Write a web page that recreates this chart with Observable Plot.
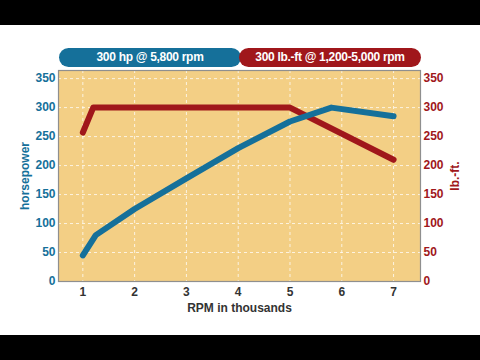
<!DOCTYPE html>
<html>
<head>
<meta charset="utf-8">
<script src="https://cdn.jsdelivr.net/npm/d3@7"></script>
<script src="https://cdn.jsdelivr.net/npm/@observablehq/plot@0.6"></script>
<style>
  html, body { margin: 0; padding: 0; background: #fff; }
  #wrap { position: relative; width: 480px; height: 360px; overflow: hidden; background: #fff; font-family: Arial, "Liberation Sans", sans-serif; }
  .bar { position: absolute; left: 0; width: 480px; background: #000; }
  .pill { position: absolute; height: 19px; border-radius: 10px; color: #fff; font-weight: bold; font-size: 12px; line-height: 19px; text-align: center; letter-spacing: -0.3px; }
  #chart { position: absolute; left: 0; top: 25px; }
</style>
</head>
<body>
<div id="wrap">
  <div class="bar" style="top:0;height:25px"></div>
  <div class="pill" id="pillHp" style="left:59px;top:48px;width:182px;background:#15709a"></div>
  <div class="pill" id="pillTq" style="left:239px;top:48px;width:182px;background:#a0171b"></div>
  <div id="chart"></div>
  <div class="bar" style="top:335px;height:25px"></div>
</div>
<script>
const hpRpm   = [1.0, 1.25, 2, 3, 4, 5, 5.8, 7];
const hpVals  = [45, 80, 125, 178, 230, 276, 300, 285];
const tqRpm   = [1.0, 1.2, 5, 7];
const tqVals  = [257, 300, 300, 210];
const xTicks  = [1, 2, 3, 4, 5, 6, 7];
const yTicks  = [0, 50, 100, 150, 200, 250, 300, 350];
const hpLabel = "300 hp @ 5,800 rpm";
const tqLabel = "300 lb.-ft @ 1,200-5,000 rpm";
const xTitle  = "RPM in thousands";
const yLeftTitle  = "horsepower";
const yRightTitle = "lb.-ft.";

const blue = "#15709a";
const red = "#a0171b";

document.getElementById("pillHp").textContent = hpLabel;
document.getElementById("pillTq").textContent = tqLabel;

const hp = hpRpm.map((r, i) => ({rpm: r, v: hpVals[i]}));
const tq = tqRpm.map((r, i) => ({rpm: r, v: tqVals[i]}));

const chart = Plot.plot({
  width: 480,
  height: 310,
  marginLeft: 58,
  marginRight: 60,
  marginTop: 45,
  marginBottom: 54,
  style: {fontFamily: "Arial, 'Liberation Sans', sans-serif", fontSize: "12px", background: "transparent"},
  x: {domain: [0.53, 7.52]},
  y: {domain: [0, 364]},
  marks: [
    Plot.frame({fill: "#f3cf85", stroke: "none"}),
    Plot.gridX(xTicks, {stroke: "#fff", strokeOpacity: 0.75, strokeDasharray: "3,3"}),
    Plot.gridY(yTicks.slice(1), {stroke: "#fff", strokeOpacity: 0.75, strokeDasharray: "3,3"}),
    Plot.line(tq, {x: "rpm", y: "v", stroke: red, strokeWidth: 6, strokeLinecap: "round", strokeLinejoin: "round"}),
    Plot.line(hp, {x: "rpm", y: "v", stroke: blue, strokeWidth: 6, strokeLinecap: "round", strokeLinejoin: "round"}),
    Plot.frame({stroke: "#8f8f8f", strokeWidth: 1.2}),
    Plot.axisX(xTicks, {tickSize: 0, tickPadding: 6, fill: "#333", fontWeight: "bold", fontSize: 12,
      label: xTitle, labelAnchor: "center", labelArrow: "none", labelOffset: 30}),
    Plot.axisY(yTicks, {anchor: "left", tickSize: 0, tickPadding: 3, fill: blue, fontWeight: "bold", fontSize: 12,
      label: yLeftTitle, labelAnchor: "center", labelArrow: "none", labelOffset: 38}),
    Plot.axisY(yTicks, {anchor: "right", tickSize: 0, tickPadding: 3, fill: red, fontWeight: "bold", fontSize: 12,
      label: yRightTitle, labelAnchor: "center", labelArrow: "none", labelOffset: 38})
  ]
});
document.getElementById("chart").appendChild(chart);
</script>
</body>
</html>
